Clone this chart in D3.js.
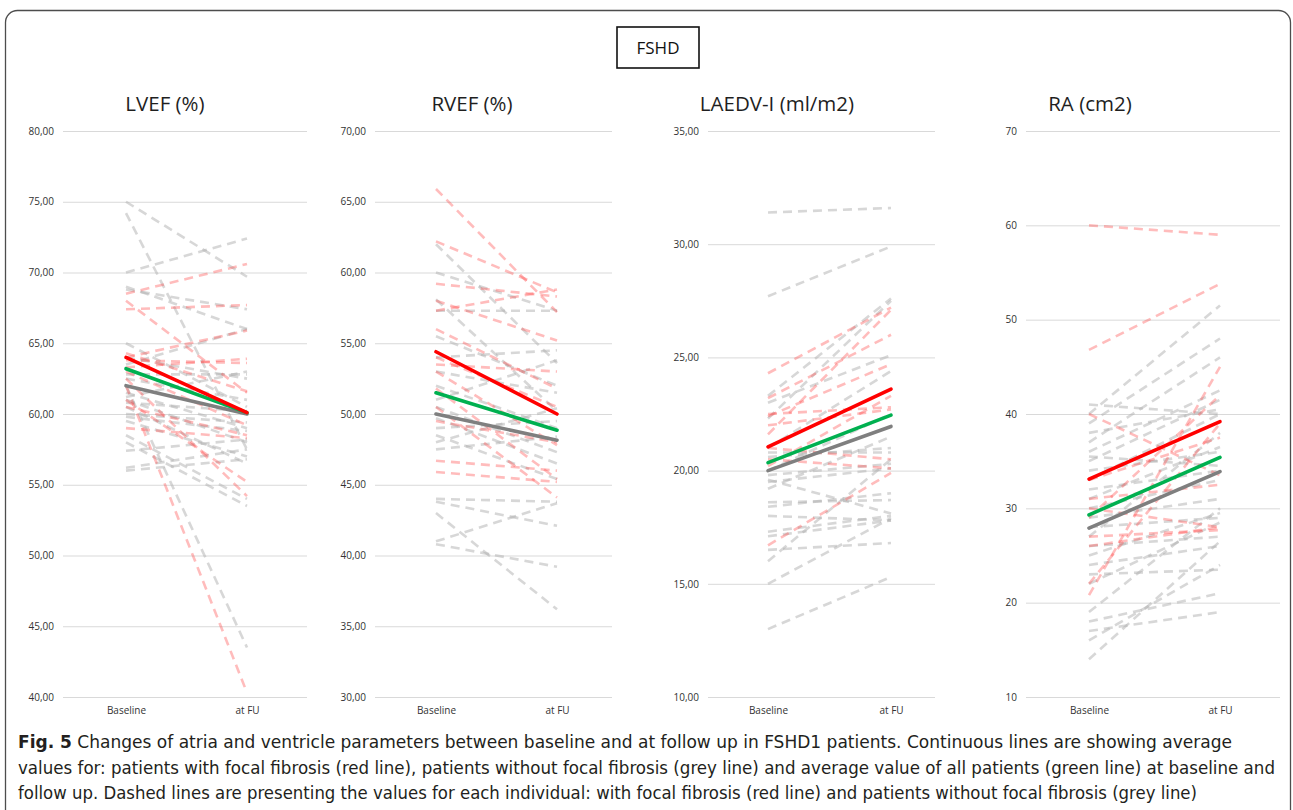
<!DOCTYPE html>
<html>
<head>
<meta charset="utf-8">
<script src="https://cdn.jsdelivr.net/npm/d3@7"></script>
<style>
html,body{margin:0;padding:0;background:#fff;}
svg{display:block;}
</style>
</head>
<body>
<svg id="chart" width="1293" height="810"></svg>
<script>
// ---------- DATA ----------
const categories = ["Baseline", "at FU"];

const panelTitles = ["LVEF (%)", "RVEF (%)", "LAEDV-I (ml/m2)", "RA (cm2)"];

const lvefTicks = [40, 45, 50, 55, 60, 65, 70, 75, 80];
const rvefTicks = [30, 35, 40, 45, 50, 55, 60, 65, 70];
const laedvTicks = [10, 15, 20, 25, 30, 35];
const raTicks = [10, 20, 30, 40, 50, 60, 70];

// mean lines [baseline, FU]
const lvefMeanFibrosis = [64.0, 60.1];
const lvefMeanAll = [63.2, 60.1];
const lvefMeanNoFibrosis = [62.0, 60.0];

const rvefMeanFibrosis = [54.4, 50.0];
const rvefMeanAll = [51.5, 48.85];
const rvefMeanNoFibrosis = [50.0, 48.15];

const laedvMeanFibrosis = [21.05, 23.6];
const laedvMeanAll = [20.35, 22.45];
const laedvMeanNoFibrosis = [20.0, 21.95];

const raMeanFibrosis = [33.1, 39.2];
const raMeanAll = [29.3, 35.4];
const raMeanNoFibrosis = [27.9, 33.9];

// individual patients [baseline, FU]
const lvefFibrosis = [[68.0,61.5],[67.4,67.7],[68.5,70.6],[64.0,65.9],[63.8,63.6],[62.0,40.3],[59.0,58.3],[61.0,55.2],[62.5,54.2],[63.0,59.2],[64.3,61.6],[60.5,58.5],[63.3,63.9]];
const lvefNoFibrosis = [[75.0,69.7],[74.2,57.5],[70.0,72.4],[69.0,66.0],[68.8,67.4],[65.0,60.5],[64.0,62.5],[63.5,66.0],[62.0,43.5],[61.5,59.0],[61.0,58.0],[60.5,56.5],[60.0,59.4],[59.5,57.0],[58.5,54.0],[58.0,53.5],[57.4,58.2],[56.0,56.8],[56.2,57.5],[62.5,61.0],[61.2,63.0],[60.8,60.2],[59.8,58.8],[62.8,62.8]];

const rvefFibrosis = [[65.9,57.2],[62.2,58.6],[59.2,58.3],[58.0,55.2],[56.0,51.8],[54.0,50.5],[53.0,47.8],[51.8,45.4],[50.5,44.1],[49.5,48.0],[46.7,46.0],[45.9,45.2],[53.5,53.0],[57.3,58.8]];
const rvefNoFibrosis = [[62.0,53.6],[60.0,57.3],[58.1,50.2],[57.3,57.3],[55.5,52.0],[54.0,54.5],[53.0,51.5],[52.0,49.0],[50.5,47.3],[49.7,46.5],[48.5,45.4],[47.5,48.4],[44.0,43.8],[43.8,42.1],[43.0,36.2],[41.0,43.7],[40.8,39.2],[48.0,50.4],[51.0,53.8],[49.0,49.5]];

const laedvFibrosis = [[24.3,27.2],[23.2,26.0],[22.4,24.7],[22.5,22.8],[21.6,27.1],[21.0,20.5],[20.5,20.1],[16.7,19.9],[22.0,22.7],[20.2,23.3]];
const laedvNoFibrosis = [[31.4,31.6],[27.7,29.9],[23.3,27.6],[23.0,25.1],[22.3,27.5],[21.0,24.4],[20.6,21.0],[20.0,22.5],[19.8,20.3],[19.5,20.1],[19.2,21.5],[18.6,18.7],[18.4,19.0],[17.3,18.0],[17.1,17.8],[16.5,16.8],[16.0,20.5],[15.0,17.9],[13.0,15.3],[18.0,17.8],[19.6,18.1],[20.8,20.8]];

const raFibrosis = [[60.0,59.0],[46.8,53.8],[40.0,33.5],[20.8,45.0],[31.0,32.5],[30.0,28.0],[26.0,28.0],[27.0,27.7],[22.0,39.0],[33.0,37.5],[29.0,42.0]];
const raNoFibrosis = [[41.0,40.0],[40.0,51.5],[39.0,48.0],[38.0,40.5],[37.0,46.0],[36.0,42.5],[35.0,41.5],[34.0,36.0],[33.0,40.0],[32.0,34.0],[30.0,33.0],[29.0,31.0],[28.0,29.0],[27.0,38.0],[26.0,27.0],[25.0,29.5],[24.0,26.0],[23.0,23.5],[22.0,28.5],[19.0,30.0],[18.0,21.0],[17.0,19.0],[16.0,24.0],[14.0,26.5],[35.5,34.5],[31.0,36.5]];

const figLabel = "Fig. 5";
const captionLines = [
  "  Changes of atria and ventricle parameters between baseline and at follow up in FSHD1 patients. Continuous lines are showing average",
  "values for: patients with focal fibrosis (red line), patients without focal fibrosis (grey line) and average value of all patients (green line) at baseline and",
  "follow up. Dashed lines are presenting the values for each individual: with focal fibrosis (red line) and patients without focal fibrosis (grey line)"
];

// ---------- LAYOUT ----------
const panels = [
  {title: panelTitles[0], ticks: lvefTicks, dec: true, red: lvefFibrosis, grey: lvefNoFibrosis,
   mRed: lvefMeanFibrosis, mGreen: lvefMeanAll, mGrey: lvefMeanNoFibrosis,
   gx0: 63, gx1: 307, cx0: 126, cx1: 247, tx: 165},
  {title: panelTitles[1], ticks: rvefTicks, dec: true, red: rvefFibrosis, grey: rvefNoFibrosis,
   mRed: rvefMeanFibrosis, mGreen: rvefMeanAll, mGrey: rvefMeanNoFibrosis,
   gx0: 375, gx1: 612, cx0: 436, cx1: 557, tx: 472},
  {title: panelTitles[2], ticks: laedvTicks, dec: true, red: laedvFibrosis, grey: laedvNoFibrosis,
   mRed: laedvMeanFibrosis, mGreen: laedvMeanAll, mGrey: laedvMeanNoFibrosis,
   gx0: 708, gx1: 935, cx0: 768, cx1: 891, tx: 777},
  {title: panelTitles[3], ticks: raTicks, dec: false, red: raFibrosis, grey: raNoFibrosis,
   mRed: raMeanFibrosis, mGreen: raMeanAll, mGrey: raMeanNoFibrosis,
   gx0: 1026, gx1: 1280, cx0: 1089, cx1: 1220, tx: 1090}
];

const yTop = 131, yBot = 697;

const svg = d3.select("#chart");

// outer frame
svg.append("rect")
  .attr("x", 5.5).attr("y", 10.5).attr("width", 1285).attr("height", 900).attr("rx", 12)
  .attr("fill", "none").attr("stroke", "#4d4d4d").attr("stroke-width", 1.3);

// FSHD box
svg.append("rect")
  .attr("x", 617).attr("y", 27).attr("width", 82).attr("height", 41)
  .attr("fill", "#fff").attr("stroke", "#111").attr("stroke-width", 1.6);
svg.append("text")
  .attr("x", 658).attr("y", 54).attr("text-anchor", "middle")
  .attr("font-family", "Open Sans, sans-serif").attr("font-size", 17).attr("fill", "#111")
  .text("FSHD");

const fmtDec = v => d3.format(".2f")(v).replace(".", ",");

panels.forEach(p => {
  const g = svg.append("g");
  const y = d3.scaleLinear().domain(d3.extent(p.ticks)).range([yBot, yTop]);
  const x = d3.scalePoint().domain(categories).range([p.cx0, p.cx1]);

  // title
  g.append("text")
    .attr("x", p.tx).attr("y", 111).attr("text-anchor", "middle")
    .attr("font-family", "Open Sans, sans-serif").attr("font-size", 20.5).attr("fill", "#1f1f1f")
    .text(p.title);

  // y axis with gridlines
  const yAxis = d3.axisLeft(y).tickValues(p.ticks)
    .tickSize(-(p.gx1 - p.gx0)).tickPadding(9)
    .tickFormat(v => p.dec ? fmtDec(v) : String(v));
  const ya = g.append("g").attr("transform", `translate(${p.gx0},0)`).call(yAxis);
  ya.select(".domain").remove();
  ya.selectAll(".tick line").attr("stroke", "#d9d9d9").attr("stroke-width", 1);
  ya.selectAll(".tick text").attr("font-family", "Open Sans, sans-serif")
    .attr("font-size", 10).attr("fill", "#333");

  // x axis labels
  const xAxis = d3.axisBottom(x).tickSize(0).tickPadding(10);
  const xa = g.append("g").attr("transform", `translate(0,${yBot})`).call(xAxis);
  xa.select(".domain").remove();
  xa.selectAll(".tick text").attr("font-family", "Open Sans, sans-serif")
    .attr("font-size", 10).attr("fill", "#333");

  const line = d3.line().x((d, i) => x(categories[i])).y(d => y(d));

  // individual dashed lines
  g.selectAll(".grey").data(p.grey).enter().append("path")
    .attr("d", d => line(d)).attr("fill", "none")
    .attr("stroke", "rgba(175,175,175,0.5)").attr("stroke-width", 2.6)
    .attr("stroke-dasharray", "9,6");
  g.selectAll(".red").data(p.red).enter().append("path")
    .attr("d", d => line(d)).attr("fill", "none")
    .attr("stroke", "rgba(255,70,70,0.36)").attr("stroke-width", 2.6)
    .attr("stroke-dasharray", "9,6");

  // mean lines
  [[p.mGrey, "#7f7f7f"], [p.mGreen, "#00b050"], [p.mRed, "#ff0000"]].forEach(([d, c]) => {
    g.append("path").attr("d", line(d)).attr("fill", "none")
      .attr("stroke", c).attr("stroke-width", 3.6).attr("stroke-linecap", "round");
  });
});

// caption
const cap = svg.append("g")
  .attr("font-family", "Liberation Sans Narrow, DejaVu Sans Condensed, Noto Sans, sans-serif")
  .attr("font-size", 18).attr("fill", "#231f20");
const widths = [1214, 1257, 1179];
captionLines.forEach((t, i) => {
  const tx = cap.append("text").attr("x", 18).attr("y", 748 + i * 25.5)
    .attr("textLength", widths[i]).attr("lengthAdjust", "spacingAndGlyphs");
  if (i === 0) {
    tx.append("tspan").attr("font-weight", "bold").text(figLabel);
  }
  tx.append("tspan").text(t);
});
</script>
</body>
</html>
